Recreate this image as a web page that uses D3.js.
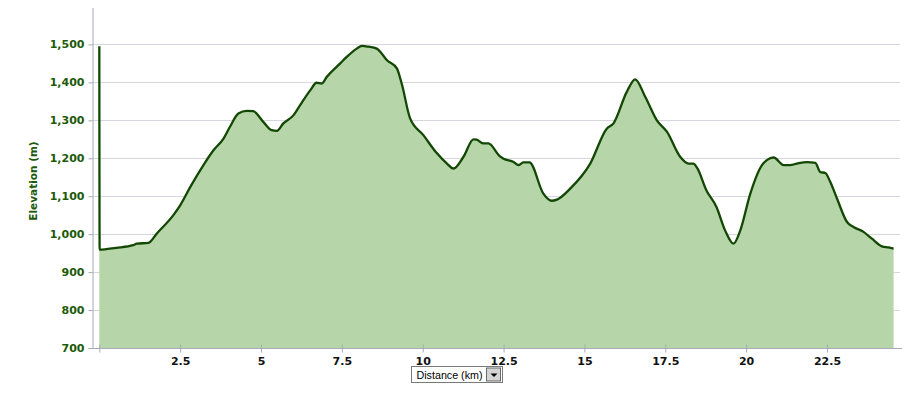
<!DOCTYPE html>
<html><head><meta charset="utf-8">
<script src="https://cdn.jsdelivr.net/npm/d3@7"></script>
<style>body{margin:0;background:#fff}svg{display:block}</style>
</head><body>
<svg id="c" width="907" height="411"></svg>
<script>
const distanceKm = [0,0.01,0.52,1.05,1.16,1.52,1.78,2.29,2.50,2.81,3.22,3.53,3.84,4.04,4.30,4.56,4.76,5.07,5.33,5.49,5.69,6.00,6.21,6.52,6.72,6.88,7.03,7.45,7.65,7.96,8.12,8.32,8.58,8.73,8.89,9.20,9.35,9.61,10.02,10.44,10.75,10.95,11.26,11.57,11.67,11.88,12.03,12.39,12.50,12.81,12.96,13.11,13.30,13.73,13.99,14.15,14.56,15.18,15.69,15.90,16.31,16.57,16.88,17.24,17.55,17.96,18.22,18.37,18.49,18.77,19.08,19.35,19.61,19.82,20.13,20.49,20.64,20.85,21.16,21.36,21.57,21.88,22.14,22.29,22.45,22.60,22.81,23.12,23.32,23.63,23.89,24.20,24.40,24.56];
const elevationM = [1495,959,964,971,975,977,1002,1050,1076,1124,1182,1221,1252,1283,1318,1325,1324,1296,1274,1272,1292,1313,1340,1379,1399,1397,1414,1450,1467,1489,1496,1494,1489,1476,1459,1437,1397,1305,1261,1213,1186,1173,1204,1250,1249,1239,1239,1205,1199,1190,1182,1189,1189,1107,1088,1091,1120,1186,1278,1292,1375,1408,1362,1300,1270,1204,1186,1186,1174,1116,1072,1010,975,1010,1107,1182,1195,1202,1182,1182,1186,1190,1188,1164,1161,1138,1094,1032,1019,1006,988,968,965,962];
const yTicks = [700,800,900,1000,1100,1200,1300,1400,1500];
const xTicks = [0,2.5,5,7.5,10,12.5,15,17.5,20,22.5];
const xTickLabels = ["","2.5","5","7.5","10","12.5","15","17.5","20","22.5"];
const yTitle = "Elevation (m)";
const xTitle = "Distance (km)";

const data = distanceKm.map((d,i)=>({d, e:elevationM[i]}));
const svg = d3.select("#c");
const x = d3.scaleLinear().domain([-0.226, 24.82]).range([92, 902]);
const y = d3.scaleLinear().domain([700, 1596]).range([348, 8]);
const fmt = d3.format(",");

// gridlines
svg.append("g").selectAll("line").data(yTicks.filter(t=>t>700)).join("line")
  .attr("x1",92).attr("x2",900).attr("y1",d=>Math.round(y(d))+0.5).attr("y2",d=>Math.round(y(d))+0.5)
  .attr("stroke","#d6d6de").attr("stroke-width",1);

// area + line
svg.append("path").datum(data)
  .attr("d", d3.area().x(d=>x(d.d)).y0(y(700)).y1(d=>y(d.e)).curve(d3.curveMonotoneX))
  .attr("fill","#b6d6a9");
svg.append("path").datum(data)
  .attr("d", d3.line().x(d=>x(d.d)).y(d=>y(d.e)).curve(d3.curveMonotoneX))
  .attr("fill","none").attr("stroke","#134804").attr("stroke-width",2.3).attr("stroke-linejoin","round");

// y axis
const ya = svg.append("g").attr("transform","translate(92.5,0)")
  .call(d3.axisLeft(y).tickValues(yTicks).tickFormat(fmt).tickSize(4).tickPadding(4));
ya.select(".domain").attr("stroke","#a8aab8").attr("d","M-4,348.5H0.5V8");
ya.selectAll(".tick line").attr("stroke","#a8aab8");
ya.selectAll(".tick text").attr("fill","#1d5a08").attr("font-family","DejaVu Sans").attr("font-weight","bold").attr("font-size","11px");

// x axis
const xa = svg.append("g").attr("transform","translate(0,348.5)")
  .call(d3.axisBottom(x).tickValues(xTicks).tickFormat((d,i)=>xTickLabels[i]).tickSize(4).tickPadding(5));
xa.select(".domain").attr("stroke","#a8aab8").attr("d","M92,0H902");
xa.selectAll(".tick line").attr("stroke","#a8aab8").attr("y1",-4).attr("y2",4);
xa.selectAll(".tick text").attr("fill","#111").attr("font-family","DejaVu Sans").attr("font-weight","bold").attr("font-size","11px");

// y title
svg.append("text").attr("transform","translate(37,181) rotate(-90)").attr("text-anchor","middle")
  .attr("font-family","DejaVu Sans").attr("font-weight","bold").attr("font-size","10.5px").attr("fill","#1d5a08")
  .text(yTitle);

// x title (dropdown box)
const g = svg.append("g").attr("transform","translate(411.5,366.5)");
g.append("rect").attr("width",91).attr("height",16).attr("fill","#fff").attr("stroke","#7a7a7a");
g.append("text").attr("x",5).attr("y",12).attr("font-family","Liberation Sans, Arial").attr("font-size","11px")
  .attr("textLength",66).attr("lengthAdjust","spacingAndGlyphs").attr("fill","#000").text(xTitle);
g.append("rect").attr("x",75).attr("y",1.5).attr("width",14).attr("height",13).attr("fill","#d4d4d4").attr("stroke","#6a6a6a");
g.append("path").attr("d","M79,7H86L82.5,10.5Z").attr("fill","#000");
</script>
</body></html>
